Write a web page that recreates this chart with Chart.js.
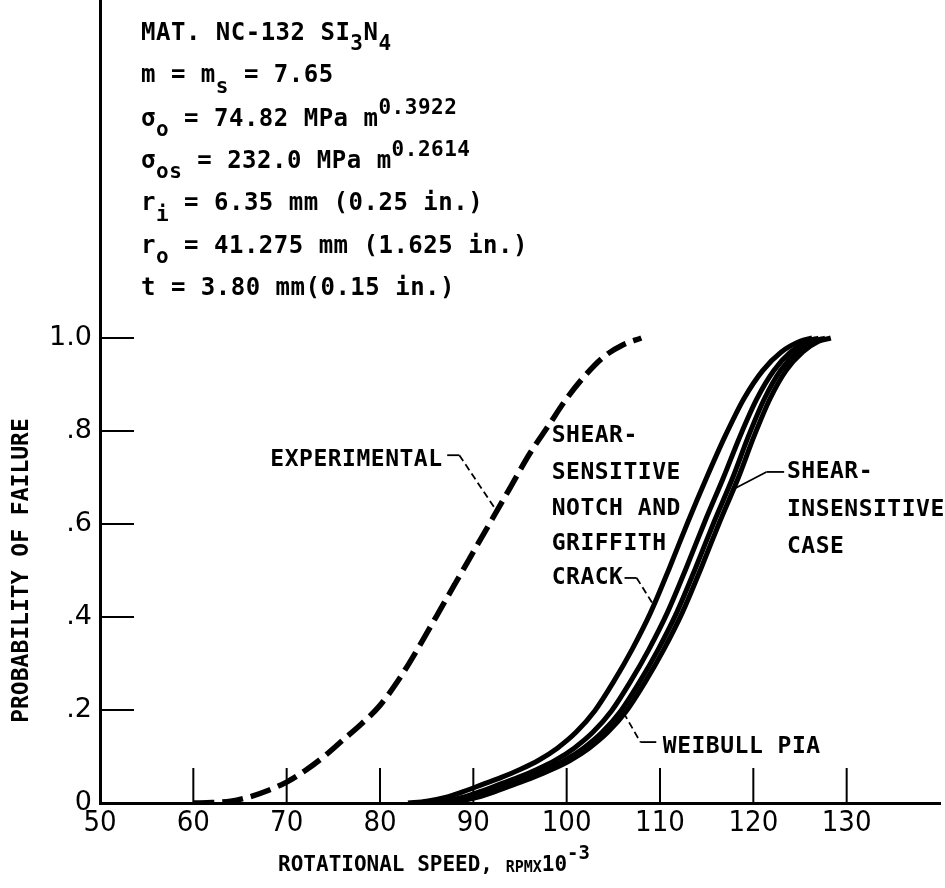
<!DOCTYPE html>
<html>
<head>
<meta charset="utf-8">
<script src="https://cdn.jsdelivr.net/npm/chart.js@4/dist/chart.umd.min.js"></script>
<style>
  html, body { margin: 0; padding: 0; background: #ffffff; }
  #wrap { width: 945px; height: 888px; }
</style>
</head>
<body>
<div id="wrap"><canvas id="c" width="945" height="888"></canvas></div>
<script>
// ---------------- data ----------------
const xTickValues = [50, 60, 70, 80, 90, 100, 110, 120, 130];
const yTickValues = [0, 0.2, 0.4, 0.6, 0.8, 1.0];
const yTickLabels = ['0', '.2', '.4', '.6', '.8', '1.0'];

// Experimental (dashed)
const expX = [60, 62, 64, 66, 68, 70, 72, 74, 76, 78, 80, 82, 84, 86, 88, 90, 92, 94, 96, 98, 100, 102, 104, 106, 108];
const expP = [0, 0.001, 0.004, 0.013, 0.027, 0.045, 0.07, 0.10, 0.135, 0.17, 0.21, 0.265, 0.33, 0.40, 0.47, 0.54, 0.61, 0.68, 0.75, 0.81, 0.87, 0.92, 0.96, 0.985, 1.0];

// Shear-sensitive Griffith crack
const crackX = [83, 85, 87, 89, 91, 93, 95, 97, 99, 101, 103, 105, 107, 109, 111, 113, 115, 117, 119, 121, 123, 125, 126.3];
const crackP = [0, 0.004, 0.012, 0.025, 0.04, 0.055, 0.072, 0.092, 0.118, 0.152, 0.198, 0.26, 0.33, 0.41, 0.505, 0.605, 0.70, 0.79, 0.87, 0.93, 0.97, 0.993, 1.0];

// Shear-sensitive notch
const notchX = [84.8, 86.8, 88.8, 90.8, 92.8, 94.8, 96.8, 98.8, 100.8, 102.8, 104.8, 106.8, 108.8, 110.8, 112.8, 114.8, 116.8, 118.6, 120.4, 122.2, 124.0, 125.8, 127.0];
const notchP = [0, 0.004, 0.012, 0.025, 0.04, 0.055, 0.072, 0.092, 0.118, 0.152, 0.198, 0.26, 0.33, 0.41, 0.505, 0.605, 0.70, 0.79, 0.87, 0.93, 0.97, 0.993, 1.0];

// Shear-insensitive case
const insensX = [85.8, 87.8, 89.8, 91.8, 93.8, 95.8, 97.8, 99.8, 101.8, 103.8, 105.8, 107.8, 109.8, 111.8, 113.8, 115.8, 117.8, 119.5, 121.2, 122.9, 124.7, 126.5, 127.7];
const insensP = [0, 0.004, 0.012, 0.025, 0.04, 0.055, 0.072, 0.092, 0.118, 0.152, 0.198, 0.26, 0.33, 0.41, 0.505, 0.605, 0.70, 0.79, 0.87, 0.93, 0.97, 0.993, 1.0];

// Weibull PIA
const weibullX = [86.4, 88.4, 90.4, 92.4, 94.4, 96.4, 98.4, 100.4, 102.4, 104.4, 106.4, 108.4, 110.4, 112.4, 114.4, 116.4, 118.4, 120.1, 121.8, 123.5, 125.3, 127.0, 128.3];
const weibullP = [0, 0.004, 0.012, 0.025, 0.04, 0.055, 0.072, 0.092, 0.118, 0.152, 0.198, 0.26, 0.33, 0.41, 0.505, 0.605, 0.70, 0.79, 0.87, 0.93, 0.97, 0.993, 1.0];

// ---------------- text ----------------
const infoLines = [
  [['MAT. NC-132 SI', 'n'], ['3', 'sub'], ['N', 'n'], ['4', 'sub']],
  [['m = m', 'n'], ['s', 'sub'], [' = 7.65', 'n']],
  [['\u03C3', 'n'], ['o', 'sub'], [' = 74.82 MPa m', 'n'], ['0.3922', 'sup']],
  [['\u03C3', 'n'], ['os', 'sub'], [' = 232.0 MPa m', 'n'], ['0.2614', 'sup']],
  [['r', 'n'], ['i', 'sub'], [' = 6.35 mm (0.25 in.)', 'n']],
  [['r', 'n'], ['o', 'sub'], [' = 41.275 mm (1.625 in.)', 'n']],
  [['t = 3.80 mm(0.15 in.)', 'n']]
];
const infoX = 54.4;
const infoY = [1.655, 1.563, 1.470, 1.380, 1.288, 1.197, 1.107];

const leftGroup = ['SHEAR-', 'SENSITIVE', 'NOTCH AND', 'GRIFFITH', 'CRACK'];
const leftGroupX = 98.4;
const leftGroupY = [0.789, 0.710, 0.632, 0.557, 0.484];
const rightGroup = ['SHEAR-', 'INSENSITIVE', 'CASE'];
const rightGroupX = 123.6;
const rightGroupY = [0.712, 0.630, 0.551];

const MONO = '"DejaVu Sans Mono", monospace';
const W = 'bold ';

function pts(xs, ys) { return xs.map((x, i) => ({ x: x, y: ys[i] })); }

function drawRich(ctx, segs, x, y) {
  let cx = x;
  for (const [t, mode] of segs) {
    let dy = 0;
    if (mode === 'n') { ctx.font = W + '24px ' + MONO; }
    else if (mode === 'sub') { ctx.font = W + '21px ' + MONO; dy = 11; }
    else { ctx.font = W + '21px ' + MONO; dy = -11; }
    ctx.fillText(t, cx, y + dy);
    cx += ctx.measureText(t).width;
  }
}

const overlay = {
  id: 'overlay',
  afterDatasetsDraw(chart) {
    const ctx = chart.ctx;
    const xs = chart.scales.x, ys = chart.scales.y;
    const X = v => xs.getPixelForValue(v);
    const Y = v => ys.getPixelForValue(v);
    const area = chart.chartArea;
    ctx.save();
    ctx.strokeStyle = '#000';
    ctx.fillStyle = '#000';
    // inner tick marks
    ctx.lineWidth = 2;
    ctx.setLineDash([]);
    xTickValues.forEach(v => {
      if (v === xTickValues[0]) return;
      ctx.beginPath(); ctx.moveTo(X(v), area.bottom); ctx.lineTo(X(v), area.bottom - 35); ctx.stroke();
    });
    yTickValues.forEach(v => {
      if (v === 0) return;
      ctx.beginPath(); ctx.moveTo(area.left, Y(v)); ctx.lineTo(area.left + 34, Y(v)); ctx.stroke();
    });

    // info block
    ctx.textBaseline = 'middle';
    ctx.textAlign = 'left';
    ctx.letterSpacing = '0.5px';
    infoLines.forEach((segs, i) => drawRich(ctx, segs, X(infoX), Y(infoY[i])));

    // curve labels
    ctx.font = W + '23px ' + MONO;
    ctx.textAlign = 'right';
    ctx.fillText('EXPERIMENTAL', X(86.7), Y(0.738));
    ctx.textAlign = 'left';
    leftGroup.forEach((t, i) => ctx.fillText(t, X(leftGroupX), Y(leftGroupY[i])));
    rightGroup.forEach((t, i) => ctx.fillText(t, X(rightGroupX), Y(rightGroupY[i])));
    ctx.fillText('WEIBULL PIA', X(110.3), Y(0.120));

    // leaders
    ctx.lineWidth = 1.8;
    const seg = (a, b, c, d, dash) => {
      ctx.setLineDash(dash || []);
      ctx.beginPath(); ctx.moveTo(X(a), Y(b)); ctx.lineTo(X(c), Y(d)); ctx.stroke();
    };
    seg(87.2, 0.748, 88.5, 0.748);
    seg(88.5, 0.748, 92.6, 0.625, [7, 4]);
    seg(106.2, 0.484, 107.5, 0.484);
    seg(107.5, 0.484, 109.3, 0.426, [7, 4]);
    seg(121.4, 0.712, 123.3, 0.712);
    seg(121.4, 0.712, 117.6, 0.672);
    seg(106.1, 0.194, 107.9, 0.131, [7, 4]);
    seg(107.9, 0.131, 109.6, 0.131);
    ctx.setLineDash([]);

    // axis titles
    ctx.letterSpacing = '0px';
    ctx.textBaseline = 'middle';
    ctx.textAlign = 'left';
    const tparts = [['ROTATIONAL SPEED, ', 21, 0], ['RPM', 15, 2], ['X', 15, 2], ['10', 21, 0], ['-3', 19, -12]];
    let tw = 0;
    tparts.forEach(([t, s]) => { ctx.font = W + s + 'px ' + MONO; tw += ctx.measureText(t).width; });
    let tx = 434 - tw / 2;
    tparts.forEach(([t, s, dy]) => {
      ctx.font = W + s + 'px ' + MONO;
      ctx.fillText(t, tx, 866 + dy);
      tx += ctx.measureText(t).width;
    });
    ctx.save();
    ctx.translate(22, Y(0.5));
    ctx.rotate(-Math.PI / 2);
    ctx.textAlign = 'center';
    ctx.font = W + '23px ' + MONO;
    ctx.fillText('PROBABILITY OF FAILURE', 0, 0);
    ctx.restore();
    ctx.restore();
  }
};

const solid = (label, xs, ys) => ({
  label: label, data: pts(xs, ys), showLine: true, borderColor: '#000', backgroundColor: '#000',
  borderWidth: 5, pointRadius: 0, cubicInterpolationMode: 'monotone', fill: false
});

new Chart(document.getElementById('c'), {
  type: 'scatter',
  data: {
    datasets: [
      Object.assign(solid('Experimental', expX, expP), { borderDash: [21, 8], borderWidth: 5.5 }),
      solid('Shear-sensitive Griffith crack', crackX, crackP),
      solid('Shear-sensitive notch', notchX, notchP),
      solid('Shear-insensitive case', insensX, insensP),
      solid('Weibull PIA', weibullX, weibullP)
    ]
  },
  options: {
    responsive: false,
    animation: false,
    devicePixelRatio: 1,
    layout: { padding: { left: 0, right: 5, top: 0, bottom: 0 } },
    plugins: { legend: { display: false }, tooltip: { enabled: false } },
    scales: {
      x: {
        type: 'linear', min: 50, max: 140,
        afterBuildTicks: s => { s.ticks = xTickValues.map(v => ({ value: v })); },
        afterFit: s => { s.height = 85; s.paddingLeft = 0; s.paddingRight = 0; },
        grid: { display: false, drawTicks: false },
        border: { display: true, color: '#000', width: 3 },
        ticks: { color: '#000', padding: 3, maxRotation: 0, autoSkip: false,
                 font: { family: '"Liberation Sans Narrow", "DejaVu Sans Condensed", sans-serif', size: 29 },
                 callback: v => String(v) }
      },
      y: {
        type: 'linear', min: 0, max: 1.727,
        afterBuildTicks: s => { s.ticks = yTickValues.map(v => ({ value: v })); },
        afterFit: s => { s.width = 100; s.paddingTop = 0; s.paddingBottom = 0; },
        grid: { display: false, drawTicks: false },
        border: { display: true, color: '#000', width: 3 },
        ticks: { color: '#000', padding: 8, autoSkip: false,
                  font: { family: '"DejaVu Sans", sans-serif', size: 27 },
                  callback: v => yTickLabels[yTickValues.indexOf(Math.round(v * 10) / 10)] }
      }
    }
  },
  plugins: [overlay]
});
</script>
</body>
</html>
